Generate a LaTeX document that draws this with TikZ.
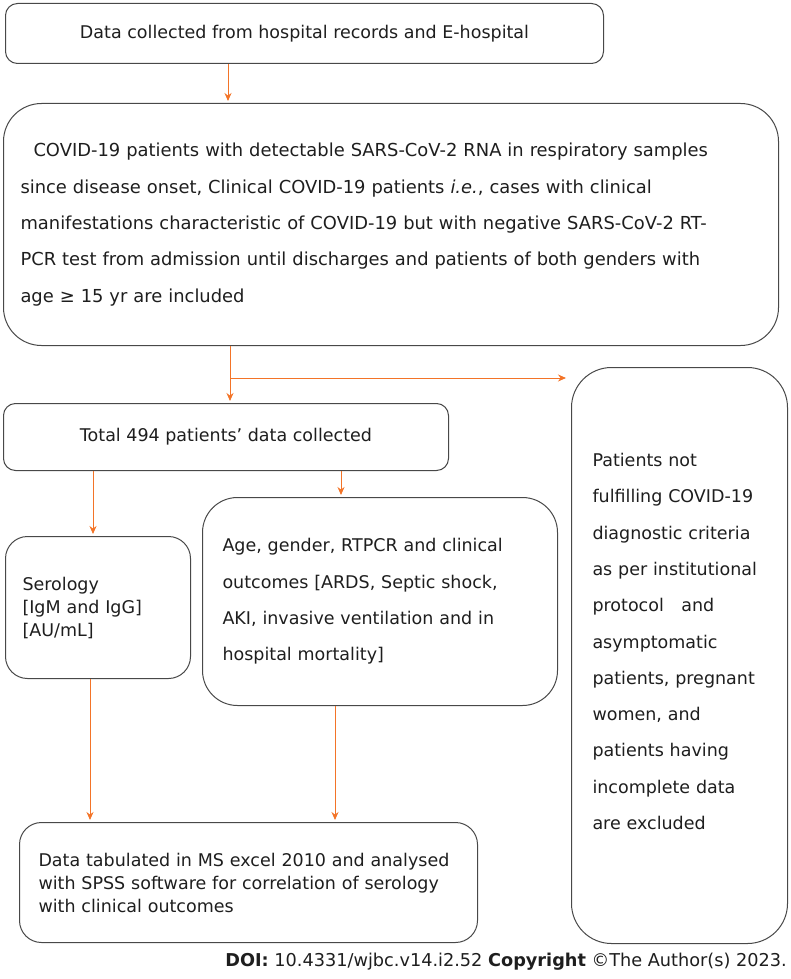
\documentclass[tikz,border=0pt]{standalone}
\usepackage{fontspec}
\setmainfont{DejaVu Sans}
\usetikzlibrary{arrows.meta}
\definecolor{flowline}{RGB}{243,116,40}
\definecolor{boxline}{RGB}{72,72,72}
\definecolor{boxtext}{RGB}{30,30,30}
\tikzset{
  box/.style={draw=boxline, line width=1pt, anchor=north west, align=left,
    inner ysep=0pt, text=boxtext, font=\fontsize{17.5}{36.3}\selectfont},
  single/.style={font=\fontsize{17.5}{23}\selectfont},
  flow/.style={draw=flowline, line width=0.9pt, -{Stealth[length=8pt,width=7pt]},
    shorten >=2pt}
}
\begin{document}
\begin{tikzpicture}[x=1pt,y=-1pt]
  \useasboundingbox (0,0) rectangle (790,979);
  \node [box, align=center, rounded corners=12pt, minimum width=598pt,
    minimum height=60pt] (src) at (5,3)
    {Data collected from hospital records and E-hospital};
  \node [box, rounded corners=38pt, minimum width=775pt, minimum height=242pt,
    inner xsep=17pt, text width=741pt, font=\fontsize{17.9}{36.3}\selectfont] (crit) at (3,103)
    {\hspace*{13pt}COVID-19 patients with detectable SARS-CoV-2 RNA in respiratory samples\\
    since disease onset, Clinical COVID-19 patients \textit{i.e.}, cases with clinical\\
    manifestations characteristic of COVID-19 but with negative SARS-CoV-2 RT-\\
    PCR test from admission until discharges and patients of both genders with\\
    age ≥ 15 yr are included};
  \node [box, align=center, rounded corners=12pt, minimum width=445pt,
    minimum height=67pt] (total) at (3,403) {Total 494 patients’ data collected};
  \node [box, rounded corners=40pt, minimum width=216pt, minimum height=576pt,
    inner xsep=21pt, text width=174pt] (excl) at (571,367)
    {Patients not\\ fulfilling COVID-19\\ diagnostic criteria\\ as per institutional\\
    protocol\ \ \ and\\ asymptomatic\\ patients, pregnant\\ women, and\\
    patients having\\ incomplete data\\ are excluded\\[-8pt]\mbox{}};
  \node [box, single, rounded corners=22pt, minimum width=185pt, minimum height=142pt,
    inner xsep=17pt, text width=151pt] (sero) at (5,536)
    {Serology\\{[IgM and IgG]}\\{[AU/mL]}};
  \node [box, rounded corners=35pt, minimum width=355pt, minimum height=208pt,
    inner xsep=20pt, text width=315pt] (age) at (202,497)
    {Age, gender, RTPCR and clinical\\ outcomes [ARDS, Septic shock,\\
    AKI, invasive ventilation and in\\ hospital mortality]};
  \node [box, single, rounded corners=22pt, minimum width=458pt, minimum height=120pt,
    inner xsep=19pt, text width=420pt] (tab) at (19,822)
    {Data tabulated in MS excel 2010 and analysed\\
    with SPSS software for correlation of serology\\ with clinical outcomes};
  \node [anchor=base east, inner sep=0pt, text=boxtext,
    font=\fontsize{17.7}{20}\selectfont] (doi) at (787,966)
    {\textbf{DOI:} 10.4331/wjbc.v14.i2.52 \textbf{Copyright} ©The Author(s) 2023.};
  \coordinate (fork) at (230,378);
  \draw [flow] (src.south -| 228,0) -- (crit.north -| 228,0);
  \draw [flow] (crit.south -| 230,0) -- (total.north -| 230,0);
  \draw [flow, shorten >=5pt] (fork) -- (fork -| excl.west);
  \draw [flow] (total.south -| 93,0) -- (sero.north -| 93,0);
  \draw [flow] (total.south -| 341,0) -- (age.north -| 341,0);
  \draw [flow] (sero.south -| 90,0) -- (tab.north -| 90,0);
  \draw [flow] (age.south -| 335,0) -- (tab.north -| 335,0);
\end{tikzpicture}
\end{document}
